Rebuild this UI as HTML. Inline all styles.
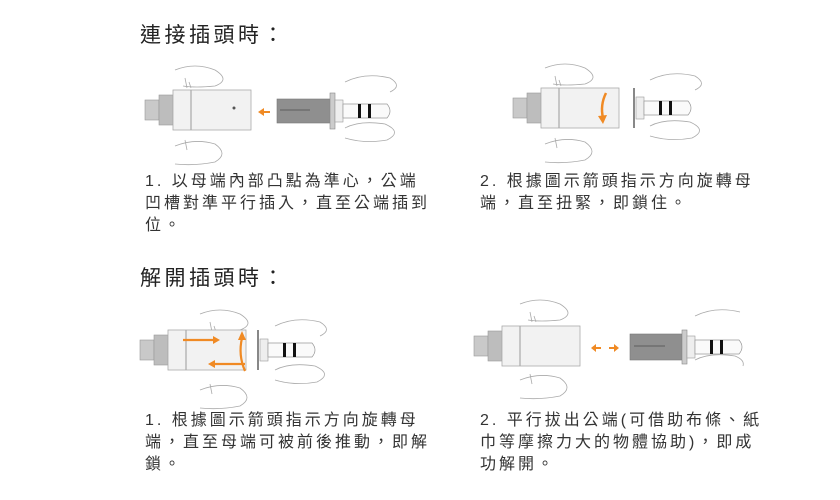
<!DOCTYPE html>
<html><head><meta charset="utf-8"><style>
body{margin:0;width:840px;height:500px;background:#fff;overflow:hidden;position:relative;font-family:"Liberation Sans","Noto Sans CJK TC",sans-serif;color:#333}
.t{position:absolute;font-size:21px;letter-spacing:3.5px;color:#222}
.p{position:absolute;font-size:16px;line-height:22px;letter-spacing:3px;color:#333}
svg{position:absolute;left:0;top:0}
</style></head><body>
<svg width="840" height="500" viewBox="0 0 840 500">
<defs>
<g id="fem">
 <rect x="0" y="10" width="14" height="20" fill="#c9c9c9" stroke="#999" stroke-width=".6"/>
 <rect x="14" y="5" width="14" height="30" fill="#bdbdbd" stroke="#999" stroke-width=".6"/>
 <rect x="28" y="0" width="78" height="40" fill="#f2f2f2" stroke="#aaa" stroke-width=".8"/>
 <line x1="46" y1="0" x2="46" y2="40" stroke="#aaa" stroke-width="1.2"/>
</g>
<g id="pin">
 <rect x="0" y="-4" width="8" height="22" fill="#eee" stroke="#999" stroke-width=".6"/>
 <path d="M8 0 H52 Q58 7 52 14 H8 Z" fill="#fafafa" stroke="#999" stroke-width=".7"/>
 <rect x="23" y="0" width="3" height="14" fill="#111"/>
 <rect x="33" y="0" width="3" height="14" fill="#111"/>
</g>
<g id="handL" fill="none" stroke="#aaa" stroke-width=".8">
 <path d="M0 -18 Q20 -26 40 -18 Q56 -8 40 -2 Q20 0 8 -2"/>
 <path d="M10 -10 L12 0 M14 -6 L16 0"/>
 <path d="M0 58 Q20 50 40 56 Q54 66 40 74 Q20 78 0 76"/>
 <path d="M10 52 L12 62"/>
</g>
</defs>

<!-- panel 1 -->
<g transform="translate(175,88)"><use href="#handL"/></g>
<g transform="translate(145,90)"><use href="#fem"/></g>
<circle cx="234" cy="108" r="1.5" fill="#555"/>
<path d="M270 111 H264 V108 L258 112 L264 116 V113 H270Z" fill="#f08a24"/>
<rect x="277" y="99" width="54" height="24" fill="#8f8f8f" stroke="#777" stroke-width=".6"/>
<line x1="280" y1="110" x2="310" y2="110" stroke="#6e6e6e" stroke-width="1.5"/>
<rect x="330" y="93" width="5" height="36" fill="#ccc" stroke="#888" stroke-width=".6"/>
<g transform="translate(335,104)"><use href="#pin"/></g>
<g transform="translate(345,88)" fill="none" stroke="#aaa" stroke-width=".8">
 <path d="M0 -6 Q20 -16 45 -10 Q58 -2 45 4"/><path d="M0 40 Q15 32 40 36 Q58 44 42 52 Q20 56 0 50"/>
</g>

<!-- panel 2 -->
<g transform="translate(545,86)"><use href="#handL"/></g>
<g transform="translate(513,88)"><use href="#fem"/></g>
<line x1="634" y1="88" x2="634" y2="128" stroke="#888" stroke-width="2"/>
<path d="M606 93 Q600 105 603 118" fill="none" stroke="#f08a24" stroke-width="2.5"/>
<path d="M598 116 L603 124 L607 115Z" fill="#f08a24"/>
<g transform="translate(636,101)"><use href="#pin"/></g>
<g transform="translate(650,86)" fill="none" stroke="#aaa" stroke-width=".8">
 <path d="M0 -6 Q20 -16 45 -10 Q58 -2 45 4"/><path d="M0 40 Q15 32 40 36 Q58 44 42 52 Q20 56 0 50"/>
</g>

<!-- panel 3 -->
<g transform="translate(200,332)"><use href="#handL"/></g>
<g transform="translate(140,330)"><use href="#fem"/></g>
<line x1="258" y1="330" x2="258" y2="370" stroke="#888" stroke-width="2"/>
<path d="M183 340 H215" stroke="#f08a24" stroke-width="2.2"/>
<path d="M213 336 L220 340 L213 344Z" fill="#f08a24"/>
<path d="M245 364 H213" stroke="#f08a24" stroke-width="2.2"/>
<path d="M215 360 L208 364 L215 368Z" fill="#f08a24"/>
<path d="M245 371 Q238 355 242 338" fill="none" stroke="#f08a24" stroke-width="2.2"/>
<path d="M238 340 L242 331 L246 340Z" fill="#f08a24"/>
<g transform="translate(260,343)"><use href="#pin"/></g>
<g transform="translate(275,330)" fill="none" stroke="#aaa" stroke-width=".8">
 <path d="M0 -4 Q20 -14 45 -8 Q58 0 45 6"/><path d="M0 40 Q15 32 40 36 Q58 44 42 52 Q20 56 0 50"/>
</g>

<!-- panel 4 -->
<g transform="translate(520,322)"><use href="#handL"/></g>
<g transform="translate(474,326)"><use href="#fem"/></g>
<path d="M601 347 H596 V344 L591 348 L596 352 V349 H601Z" fill="#f08a24"/>
<path d="M609 347 H614 V344 L619 348 L614 352 V349 H609Z" fill="#f08a24"/>
<rect x="630" y="334" width="52" height="26" fill="#8f8f8f" stroke="#777" stroke-width=".6"/>
<line x1="634" y1="346" x2="665" y2="346" stroke="#6e6e6e" stroke-width="1.5"/>
<rect x="682" y="330" width="5" height="34" fill="#ccc" stroke="#888" stroke-width=".6"/>
<g transform="translate(687,340)"><use href="#pin"/></g>
<g transform="translate(695,320)" fill="none" stroke="#aaa" stroke-width=".8">
 <path d="M0 -4 Q20 -14 45 -8"/><path d="M0 40 Q15 32 40 36 Q50 40 48 46"/>
</g>
</svg>

<div class="t" style="left:140px;top:19px">連接插頭時：</div>
<div class="t" style="left:140px;top:262px">解開插頭時：</div>

<div class="p" style="left:145px;top:171px">1. 以母端內部凸點為準心，公端<br>凹槽對準平行插入，直至公端插到<br>位。</div>
<div class="p" style="left:480px;top:171px">2. 根據圖示箭頭指示方向旋轉母<br>端，直至扭緊，即鎖住。</div>
<div class="p" style="left:145px;top:410px">1. 根據圖示箭頭指示方向旋轉母<br>端，直至母端可被前後推動，即解<br>鎖。</div>
<div class="p" style="left:480px;top:410px">2. 平行拔出公端(可借助布條、紙<br>巾等摩擦力大的物體協助)，即成<br>功解開。</div>
</body></html>
